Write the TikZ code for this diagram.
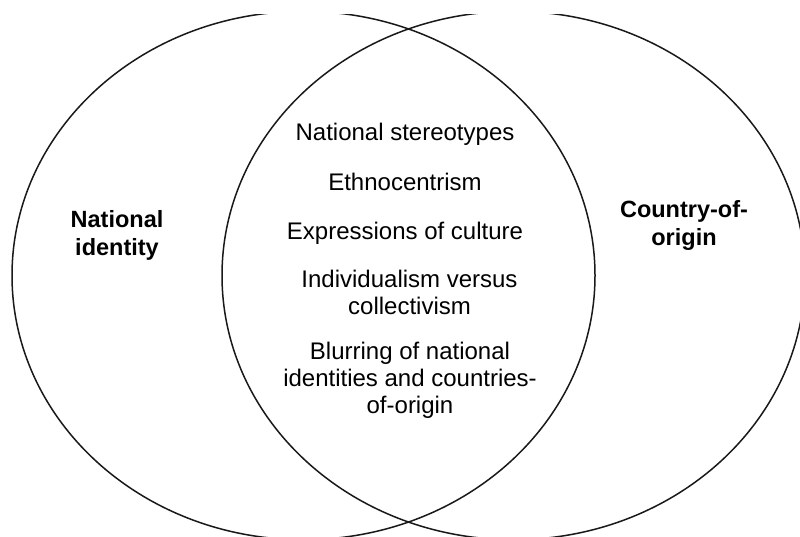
\documentclass[tikz,border=0pt]{standalone}
\usepackage{fontspec}
\setmainfont{Liberation Sans}
\begin{document}
\begin{tikzpicture}[x=1pt,y=-1pt,
  ring/.style={draw=black!90, line width=1.5pt},
  item/.style={align=center, inner sep=0pt, font=\fontsize{24}{27}\selectfont},
  label/.style={align=center, inner sep=0pt, font=\fontsize{23.5}{28}\selectfont\bfseries}]
\useasboundingbox (0,0) rectangle (800,537);
\begin{scope}
  \clip (0,15) rectangle (800,537);
  \draw[ring] (303.5,275.5) ellipse [x radius=291.5, y radius=264.2];
  \draw[ring] (513.5,275.5) ellipse [x radius=291.5, y radius=264.2];
\end{scope}
\node[label] (ni) at (117,235) {National\\identity};
\node[label] (coo) at (684,225) {Country-of-\\origin};
\node[item] (s1) at (405,134) {National stereotypes};
\node[item] (s2) at (405,182) {Ethnocentrism};
\node[item] (s3) at (405,233) {Expressions of culture};
\node[item] (s4) at (409.5,292) {Individualism versus\\collectivism};
\node[item] (s5) at (410,380) {Blurring of national\\identities and countries-\\of-origin};
\end{tikzpicture}
\end{document}
